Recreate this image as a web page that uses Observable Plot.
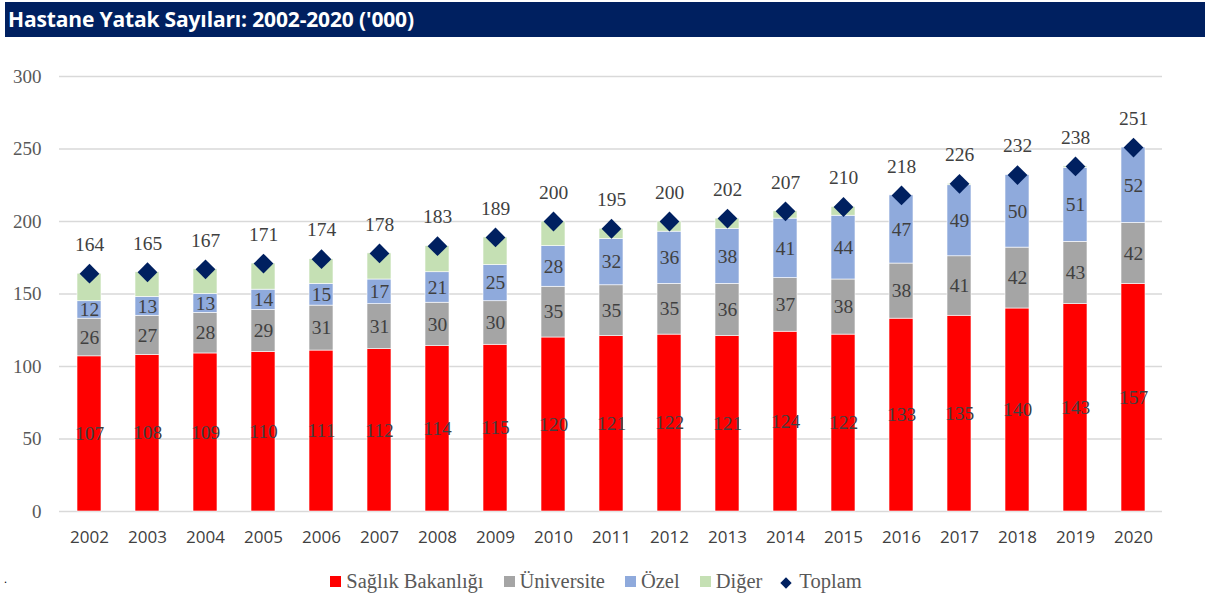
<!DOCTYPE html>
<html><head><meta charset="utf-8">
<script src="https://cdn.jsdelivr.net/npm/d3@7"></script>
<script src="https://cdn.jsdelivr.net/npm/@observablehq/plot@0.6"></script>
<style>
body{margin:0;background:#fff;width:1210px;height:610px;overflow:hidden;position:relative}
#title{position:absolute;left:5px;top:2px;width:1200px;height:35px;background:#002060;color:#fff;font-family:"Open Sans",sans-serif;font-weight:700;font-size:21px;line-height:35px;padding-left:3px;box-sizing:border-box;letter-spacing:-0.15px}
#chart{position:absolute;left:0;top:40px}
#legend{position:absolute;left:-9px;top:569px;width:1210px;text-align:center;font-family:"Liberation Serif",serif;font-size:20.5px;color:#595959;line-height:24px}
#legend span.item{margin:0 10px;white-space:nowrap}
#legend i{display:inline-block;width:11px;height:11px;margin-right:5px;vertical-align:1px}
#dot{position:absolute;left:4px;top:572px;font-size:12px;color:#000}
</style></head>
<body>
<div id="title">Hastane Yatak Sayıları: 2002-2020 ('000)</div>
<div id="chart"></div>
<div id="legend"></div>
<div id="dot">.</div>
<script>
const years = [2002,2003,2004,2005,2006,2007,2008,2009,2010,2011,2012,2013,2014,2015,2016,2017,2018,2019,2020];
const saglik = [107,108,109,110,111,112,114,115,120,121,122,121,124,122,133,135,140,143,157];
const universite = [26,27,28,29,31,31,30,30,35,35,35,36,37,38,38,41,42,43,42];
const ozel = [12,13,13,14,15,17,21,25,28,32,36,38,41,44,47,49,50,51,52];
const diger = [19,17,17,18,17,18,18,19,17,7,7,7,5,6,0,1,0,1,0];
const toplam = [164,165,167,171,174,178,183,189,200,195,200,202,207,210,218,226,232,238,251];
const seriesNames = ["Sağlık Bakanlığı","Üniversite","Özel","Diğer"];
const seriesColors = ["#FF0000","#A5A5A5","#8FAADC","#C5E0B4"];
const totalName = "Toplam";
const totalColor = "#002060";
const yTicks = [0,50,100,150,200,250,300];

const seriesValues = [saglik, universite, ozel, diger];
const long = [];
seriesNames.forEach((s, si) => years.forEach((y, i) => long.push({year: String(y), series: s, value: seriesValues[si][i], label: si < 3})));
const totals = years.map((y, i) => ({year: String(y), total: toplam[i]}));

const serif = "'Liberation Serif', 'Times New Roman', serif";
const chart = Plot.plot({
  width: 1210, height: 520,
  marginLeft: 59, marginRight: 48, marginTop: 36, marginBottom: 49,
  style: {fontFamily: serif, background: "transparent"},
  x: {domain: years.map(String), paddingInner: 0.59, paddingOuter: 0.295, label: null},
  y: {domain: [0, 300], ticks: yTicks, label: null},
  color: {domain: seriesNames, range: seriesColors},
  marks: [
    Plot.gridY(yTicks, {stroke: "#d9d9d9", strokeOpacity: 1, strokeWidth: 1.5}),
    Plot.barY(long, Plot.stackY({x: "year", y: "value", fill: "series", z: "series", stroke: "#fff", strokeWidth: 0.6})),
    Plot.text(long.filter(d => d.label && d.value > 0), Plot.stackY({x: "year", y: "value", z: "series", text: d => String(d.value), fill: "#404040", fontSize: 19.5, fontFamily: serif})),
    Plot.dot(totals, {x: "year", y: "total", symbol: "square", r: 7.9, rotate: 45, fill: totalColor}),
    Plot.text(totals, {x: "year", y: "total", text: d => String(d.total), dy: -29, fill: "#404040", fontSize: 19.5, fontFamily: serif}),
    Plot.axisY({ticks: yTicks, tickSize: 0, tickPadding: 18, fontSize: 19, fill: "#595959", fontFamily: serif, label: null}),
    Plot.axisX({tickSize: 0, tickPadding: 19, fontSize: 17, fill: "#404040", fontFamily: "'Open Sans', sans-serif", label: null})
  ]
});
document.getElementById("chart").appendChild(chart);

const legend = document.getElementById("legend");
seriesNames.forEach((s, i) => {
  legend.insertAdjacentHTML("beforeend", `<span class="item"><i style="background:${seriesColors[i]}"></i>${s}</span>`);
});
legend.insertAdjacentHTML("beforeend", `<span class="item"><i style="background:${totalColor};width:8px;height:8px;transform:rotate(45deg);margin-right:9px"></i>${totalName}</span>`);
</script>
</body></html>
